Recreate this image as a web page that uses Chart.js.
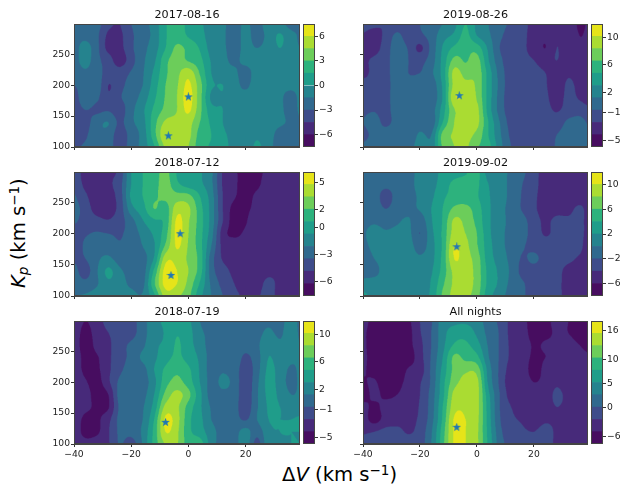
<!DOCTYPE html>
<html><head><meta charset="utf-8">
<script src="https://cdn.jsdelivr.net/npm/chart.js@4"></script>
<style>
html,body{margin:0;padding:0;background:#fff;width:623px;height:488px;overflow:hidden}
canvas{position:absolute}
.lab{position:absolute;font-family:"DejaVu Sans";font-size:19.6px;color:#000;white-space:nowrap;line-height:1}
.lab sup{font-size:13.5px;line-height:0;vertical-align:6px}
.lab sub{font-size:13.5px;line-height:0;vertical-align:-3px;font-style:italic}
</style></head><body>
<div class="lab" id="xlab">Δ<i>V</i> (km s<sup>−1</sup>)</div>
<div class="lab" id="ylab"><i>K</i><sub>p</sub> (km s<sup>−1</sup>)</div>
<script>
// Grid positions of the maps
const velocities = [-40,-36,-32,-28,-24,-20,-16,-12,-8,-4,0,4,8,12,16,20,24,28,32,36,39];
const kpRows = [300,280,260,240,220,200,180,160,140,120,100];
const xTickValues = [-40,-20,0,20];
const yTickValues = [100,150,200,250];
// Map values, in colour-level units (0 = lowest level, 10 = highest)
const map20170816 = [
[3.5,3.5,3.4,2.3,2.0,3.0,3.6,4.4,5.9,6.5,5.7,5.2,4.5,4.2,3.6,4.2,3.6,4.6,4.3,3.6,4.0],
[3.6,3.7,3.2,1.8,1.8,2.8,3.6,4.3,5.9,6.5,5.9,5.4,4.5,4.2,3.4,4.4,3.5,4.4,5.1,4.3,3.9],
[3.6,4.4,3.3,1.7,1.7,2.8,3.7,4.5,6.0,7.2,6.7,5.9,4.6,4.2,3.6,4.3,4.0,4.4,5.0,4.4,4.0],
[3.6,4.4,3.3,2.5,1.5,2.6,3.8,4.8,6.7,7.4,6.9,6.3,4.9,4.3,3.8,4.3,4.4,4.5,4.5,4.8,4.3],
[3.4,3.8,3.4,2.6,2.5,3.1,3.9,5.2,6.8,7.7,8.6,6.9,5.0,4.4,4.2,3.6,4.5,4.6,4.5,4.6,4.6],
[3.0,3.4,3.6,2.0,2.7,3.4,4.0,5.5,7.0,7.9,9.2,7.4,5.2,5.0,4.4,3.8,4.6,4.7,4.4,4.5,4.6],
[2.6,3.6,3.2,2.2,2.9,3.5,4.4,5.8,7.1,8.0,9.4,7.4,4.8,4.9,4.3,4.4,4.6,4.6,4.3,3.3,4.4],
[2.5,3.0,2.8,2.9,2.5,3.7,4.8,6.2,7.3,8.0,9.2,7.3,5.4,5.0,4.5,4.4,4.7,4.5,4.3,3.4,4.2],
[2.5,2.6,3.6,4.0,2.8,3.8,4.6,6.6,8.2,8.3,8.4,7.0,5.8,5.0,4.7,4.2,4.5,4.4,4.2,3.8,3.8],
[2.2,2.8,3.8,3.6,2.5,3.4,4.4,6.6,8.9,8.6,8.3,6.6,6.0,5.2,4.7,4.4,4.8,4.4,3.6,3.3,3.4],
[2.8,3.2,3.6,3.4,2.6,3.4,4.4,5.9,8.2,8.4,8.0,6.4,5.9,5.6,4.4,4.3,5.2,4.3,3.6,3.4,3.5]];
const map20180712 = [
[2.5,1.6,1.4,1.8,2.3,5.0,6.0,6.5,7.3,5.9,5.3,5.1,4.2,1.9,1.2,0.6,0.7,1.3,1.4,1.2,1.3],
[2.8,1.7,1.3,1.8,2.6,5.0,6.0,6.6,7.4,6.2,5.5,5.2,4.2,1.9,1.2,0.6,0.8,1.5,1.5,1.5,1.6],
[3.1,2.2,1.3,1.6,2.5,5.2,6.0,6.8,7.3,7.4,7.3,6.0,4.5,2.0,1.1,0.7,1.2,1.5,1.5,1.6,1.7],
[3.3,2.6,1.5,1.5,2.4,4.6,5.6,7.0,6.5,8.6,8.2,6.4,4.6,2.0,0.7,0.8,1.3,1.5,1.5,1.6,1.7],
[3.1,2.7,2.4,2.1,2.6,3.6,4.9,5.8,6.3,9.2,8.1,6.5,4.6,2.0,0.6,0.9,1.8,1.5,1.6,1.8,1.6],
[2.6,2.9,3.1,3.0,2.9,3.4,4.3,5.2,6.6,9.3,8.0,6.4,4.4,1.5,0.8,1.2,1.7,1.5,1.6,1.9,1.7],
[2.3,3.2,3.6,3.5,3.1,3.4,4.0,4.9,7.2,9.1,7.9,6.4,4.0,1.7,1.5,1.5,1.5,1.5,1.8,1.8,1.7],
[2.8,3.0,3.8,4.2,3.5,3.3,3.6,5.1,8.6,8.7,7.8,6.6,3.5,1.9,1.7,1.5,1.7,1.8,1.8,1.8,1.7],
[3.3,2.6,3.9,5.2,4.2,3.6,3.5,6.2,9.4,9.0,8.0,6.5,3.5,2.4,1.8,1.7,1.7,1.8,1.9,1.9,1.8],
[3.6,3.3,3.9,4.8,4.4,3.8,3.7,6.8,9.4,9.0,7.7,5.9,3.8,2.7,2.0,1.7,1.7,2.2,1.8,1.8,1.8],
[4.0,4.1,4.4,4.5,4.4,4.3,4.1,5.8,8.5,8.2,7.3,5.3,4.0,3.0,2.2,1.9,1.9,2.3,1.7,1.8,1.9]];
const map20180719 = [
[1.6,1.0,1.5,2.4,2.5,2.6,3.6,4.6,5.2,5.3,5.2,4.0,3.8,4.0,3.5,3.8,3.7,3.8,3.6,4.6,3.7],
[1.5,0.7,1.4,2.0,2.4,2.6,3.6,4.6,5.1,5.9,5.4,4.2,3.8,3.5,3.5,3.6,3.7,4.2,3.8,4.7,3.8],
[1.6,0.5,1.3,1.8,2.6,3.2,3.8,4.8,5.2,6.1,5.4,4.5,3.6,3.6,3.6,3.4,3.8,4.8,4.2,4.6,4.0],
[1.6,0.7,0.9,1.8,2.6,3.3,4.2,4.8,5.6,6.2,5.6,4.8,3.6,3.7,3.7,2.8,3.6,5.0,4.5,4.3,4.1],
[1.5,0.8,0.8,1.8,2.8,3.4,3.6,5.0,6.2,6.8,6.2,4.9,3.6,3.9,3.6,2.4,3.6,5.2,4.6,3.8,4.2],
[1.6,1.1,0.6,1.8,3.2,3.5,3.5,4.7,6.6,7.3,6.5,5.0,3.7,4.2,3.7,2.3,3.8,5.3,4.6,3.6,4.2],
[1.7,1.5,0.5,1.0,3.4,3.6,3.7,5.0,7.3,8.3,7.3,5.3,3.6,3.8,3.6,2.3,3.9,5.2,4.8,4.0,4.2],
[1.8,1.3,0.8,0.9,3.2,3.6,3.9,5.4,8.3,8.2,6.6,5.2,3.9,3.6,3.4,2.4,3.9,5.1,5.0,4.6,4.6],
[1.7,0.7,0.8,1.7,3.3,3.7,4.0,6.0,9.2,8.4,6.3,5.3,4.0,3.5,3.4,2.9,4.0,5.0,5.0,5.0,5.1],
[1.7,0.6,0.8,1.9,3.2,3.4,4.2,6.3,9.0,8.2,6.3,5.5,4.4,3.6,3.6,4.4,3.4,4.8,5.0,5.0,5.0],
[1.8,1.4,1.6,1.9,3.1,2.5,4.1,6.3,8.1,8.1,6.5,6.5,4.5,3.6,3.6,4.6,2.6,4.8,4.9,5.0,5.0]];
const map20190826 = [
[2.5,2.3,2.0,2.4,2.4,3.0,3.3,4.0,4.7,6.0,4.8,4.0,3.4,2.8,2.4,1.6,1.6,1.9,1.8,0.8,1.1],
[1.9,1.5,2.3,3.2,2.5,2.8,3.4,4.6,5.2,6.3,5.0,4.2,3.2,2.6,2.3,1.5,1.2,1.9,1.8,1.0,1.2],
[1.7,1.6,2.5,3.5,2.9,1.8,3.3,5.1,6.2,6.7,6.5,4.8,3.0,2.6,2.2,1.6,1.0,2.0,1.4,1.2,1.2],
[1.8,2.2,2.6,3.6,3.0,2.7,3.5,5.3,7.3,6.9,7.4,5.1,3.3,2.4,2.2,2.0,1.5,2.0,1.3,1.4,1.4],
[1.7,2.3,2.6,3.6,3.0,3.0,3.8,5.4,8.3,7.6,7.7,5.6,3.6,2.4,2.2,2.3,2.0,1.4,1.8,1.6,1.5],
[2.4,2.3,2.6,3.5,3.2,3.7,3.4,5.2,8.3,8.3,7.8,5.6,3.7,2.4,2.3,2.3,2.1,1.3,2.2,1.7,1.6],
[2.6,2.5,2.6,3.6,3.1,3.6,3.3,5.1,8.8,8.7,7.9,5.6,3.6,2.3,2.2,2.3,2.2,1.5,2.3,1.9,1.7],
[2.8,2.9,2.6,3.6,3.6,3.4,3.5,5.5,7.9,8.4,8.3,5.6,3.6,2.4,2.2,2.3,2.3,1.9,2.4,2.5,2.2],
[3.0,3.5,2.7,3.5,3.9,3.4,3.3,6.0,8.0,8.2,8.3,6.0,4.0,2.6,2.3,2.2,2.4,2.5,3.2,3.4,2.9],
[2.7,3.3,3.6,3.7,3.1,4.2,4.0,7.3,8.1,8.3,7.7,6.0,4.2,2.8,2.4,2.3,2.4,3.0,3.3,3.3,3.1],
[3.2,3.5,3.6,3.5,3.2,4.8,4.3,7.2,8.0,8.2,7.1,6.4,4.4,3.0,2.5,2.5,2.4,3.1,3.2,3.2,3.1]];
const map20190902 = [
[3.4,3.4,3.4,3.4,3.5,4.4,4.5,5.3,5.6,5.9,6.3,4.6,4.8,3.6,3.2,2.4,1.5,1.4,1.3,1.3,1.4],
[3.5,3.6,3.4,3.5,3.6,4.4,4.6,5.5,6.2,6.3,6.2,5.0,4.7,3.6,3.0,2.3,1.6,1.5,1.4,1.3,1.4],
[3.6,3.7,2.4,3.5,3.6,4.2,4.8,5.8,6.3,6.4,6.1,5.1,4.5,3.7,2.9,2.2,1.6,1.6,1.5,1.4,1.5],
[3.7,3.7,3.0,3.6,3.8,4.1,5.0,6.0,7.2,7.3,6.5,5.2,4.4,3.6,2.9,2.2,1.5,1.6,1.7,2.2,1.7],
[3.8,3.9,3.7,3.9,4.1,3.4,4.9,6.1,8.2,7.7,6.7,5.2,4.4,3.7,3.3,2.5,1.8,2.3,2.2,2.3,1.7],
[3.9,4.3,4.1,4.2,4.3,3.0,4.7,6.2,8.4,8.0,7.0,5.3,4.3,3.7,3.3,2.6,1.9,2.3,2.3,2.3,1.7],
[3.8,4.2,4.3,4.3,4.5,3.5,4.6,6.2,9.0,8.3,7.1,5.4,4.4,3.6,3.1,2.7,2.5,2.4,2.3,2.2,1.6],
[3.6,4.0,4.4,4.4,4.6,4.2,4.7,6.3,9.0,8.4,7.5,5.5,4.6,3.7,2.9,3.2,2.6,2.4,2.2,1.9,1.8],
[3.7,3.7,4.4,4.4,4.6,4.6,4.9,6.4,8.3,8.5,7.6,5.7,4.8,3.8,2.7,2.6,2.4,2.3,1.7,1.7,1.9],
[4.3,4.4,4.4,4.5,4.6,4.5,5.1,6.8,8.2,8.5,7.6,5.7,4.8,3.7,3.1,2.6,2.4,2.3,1.6,1.8,1.9],
[5.3,4.6,4.5,4.5,4.6,4.6,5.2,7.2,8.3,8.3,7.4,5.4,4.5,3.5,3.1,2.7,2.5,2.4,1.5,1.9,2.0]];
const mapAllNights = [
[1.4,0.6,0.5,0.5,0.8,2.0,2.9,4.5,4.7,4.8,4.5,3.5,2.8,1.7,1.3,0.6,0.8,1.2,1.0,0.6,0.6],
[1.2,0.5,0.5,0.5,0.7,1.9,3.0,4.6,5.5,5.6,4.8,3.7,2.9,1.7,1.4,0.6,0.8,1.1,1.0,0.7,0.5],
[1.2,0.5,0.5,0.5,0.7,1.7,3.0,4.7,6.1,6.2,5.4,3.9,2.9,1.8,1.5,0.9,1.1,1.1,1.2,1.0,0.8],
[1.2,0.6,0.5,0.4,0.5,1.6,3.1,5.0,7.2,6.7,6.3,4.1,2.9,1.8,1.5,0.8,1.0,1.2,1.2,1.2,1.1],
[1.1,0.7,0.5,0.4,1.1,1.5,3.2,5.3,7.3,7.8,7.6,4.6,2.8,1.6,1.6,0.5,1.3,1.3,1.3,1.3,1.2],
[0.9,1.1,0.5,0.7,1.3,1.9,3.2,5.6,7.6,8.3,8.3,4.8,2.8,1.4,1.6,1.0,1.3,1.8,1.4,1.4,1.2],
[0.6,1.2,0.8,1.0,1.4,2.0,3.4,5.7,8.3,8.5,8.4,5.3,3.0,1.6,1.6,1.5,1.5,2.2,1.7,1.5,1.4],
[1.3,0.8,1.3,1.4,1.5,2.1,3.5,6.0,8.6,8.8,8.4,5.5,3.0,2.0,1.6,1.6,1.7,2.0,1.8,1.6,1.5],
[1.5,0.6,1.4,1.6,1.7,2.2,3.6,6.2,9.1,9.0,8.3,5.6,3.1,2.2,1.9,1.7,1.9,1.9,1.8,1.7,1.5],
[1.9,2.0,2.3,2.3,1.9,2.4,3.9,6.5,9.1,9.0,8.2,5.7,3.3,2.4,2.1,2.0,2.2,1.9,1.7,1.7,1.6],
[2.3,2.3,2.6,2.6,2.5,2.5,4.0,6.7,9.1,9.0,8.2,5.8,3.5,2.6,2.3,2.1,2.2,1.9,1.8,1.7,1.6]];
// Star markers
const stars20170816 = [{x:-7,y:118},{x:0,y:181}];
const stars20180712 = [{x:-2.9,y:200},{x:-6.1,y:133}];
const stars20180719 = [{x:-8,y:135}];
const stars20190826 = [{x:-6.2,y:183}];
const stars20190902 = [{x:-7.1,y:179}];
const starsAllNights = [{x:-7.1,y:127}];
// Colour bar ranges and ticks
const range20170816 = [-7.5,7.5], ticks20170816 = [-6,-3,0,3,6];
const range20180712 = [-7.57,6.13], ticks20180712 = [-6,-3,0,2,5];
const range20180719 = [-5.97,11.97], ticks20180719 = [-5,-1,2,6,10];
const range20190826 = [-5.97,11.97], ticks20190826 = [-5,-1,2,6,10];
const range20190902 = [-8,12], ticks20190902 = [-6,-2,2,6,10];
const rangeAllNights = [-7.5,17.9], ticksAllNights = [-6,0,5,10,16];
const bandColors = ['#470d60','#472a7a','#3e4c8a','#30698e','#25838e','#1f9d8a','#2db27d','#6ccd5a','#aadc32','#e6e419'];

const FONT = 'DejaVu Sans', TICK = 9.2;
const cols = {L:{x:74,w:226,cb:303},R:{x:363,w:225,cb:591}};
const rowsPos = [{y:24,h:123},{y:172,h:124},{y:321,h:123}];

function starImage(){
  const c=document.createElement('canvas');c.width=c.height=9;const g=c.getContext('2d');
  g.fillStyle='#1f77b4';g.beginPath();
  for(let i=0;i<10;i++){const r=i%2?1.9:4.6,a=-Math.PI/2+i*Math.PI/5;g[i?'lineTo':'moveTo'](4.5+r*Math.cos(a),4.5+r*Math.sin(a));}
  g.closePath();g.fill();return c;
}
const starImg=starImage();
function cr(p0,p1,p2,p3,t){return p1+0.5*t*(p2-p0+t*(2*p0-5*p1+4*p2-p3+t*(3*(p1-p2)+p3-p0)));}
function locate(arr,v){
  const inc=arr[1]>arr[0];let i=0;
  while(i<arr.length-2&&(inc?v>arr[i+1]:v<arr[i+1]))i++;
  return [i,Math.max(0,Math.min(1,(v-arr[i])/(arr[i+1]-arr[i])))];
}
function sample(grid,x,y){
  const [i,tx]=locate(velocities,x),[j,ty]=locate(kpRows,y);
  const R=grid.length-1,C=grid[0].length-1,row=[];
  for(let n=-1;n<=2;n++){
    const r=grid[Math.max(0,Math.min(R,j+n))];
    row.push(cr(r[Math.max(0,i-1)],r[i],r[Math.min(C,i+1)],r[Math.min(C,i+2)],tx));
  }
  return cr(row[0],row[1],row[2],row[3],ty);
}
function hexRGB(h){return [1,3,5].map(k=>parseInt(h.substr(k,2),16));}
const bandRGB=bandColors.map(hexRGB);
const frame={id:'frame',afterDraw(ch){const a=ch.chartArea,g=ch.ctx;g.save();g.strokeStyle='#444';g.lineWidth=1;
  g.strokeRect(Math.round(a.left)+.5,Math.round(a.top)+.5,Math.round(a.right-a.left)-1,Math.round(a.bottom-a.top)-1);g.restore();}};
function contour(grid){return {id:'contour',beforeDatasetsDraw(ch){
  const a=ch.chartArea,S=3,w=Math.round((a.right-a.left)*S),h=Math.round((a.bottom-a.top)*S);
  const off=document.createElement('canvas');off.width=w;off.height=h;const g=off.getContext('2d'),im=g.createImageData(w,h);
  const sx=ch.scales.x,sy=ch.scales.y;
  for(let py=0;py<h;py++){const ky=sy.getValueForPixel(a.top+(py+.5)/S);
    for(let px=0;px<w;px++){const vx=sx.getValueForPixel(a.left+(px+.5)/S);
      const b=Math.max(0,Math.min(9,Math.floor(sample(grid,vx,ky))));const c=bandRGB[b],o=(py*w+px)*4;
      im.data[o]=c[0];im.data[o+1]=c[1];im.data[o+2]=c[2];im.data[o+3]=255;}}
  g.putImageData(im,0,0);
  const t=ch.ctx;t.save();t.imageSmoothingEnabled=true;t.imageSmoothingQuality='high';t.drawImage(off,a.left,a.top,a.right-a.left,a.bottom-a.top);t.restore();
}};}
function place(el,l,t,w,h){el.style.left=l+'px';el.style.top=t+'px';el.width=w;el.height=h;document.body.appendChild(el);return el.getContext('2d');}
const fmt=v=>String(v).replace('-','\u2212');

function panel(title,grid,stars,range,cbTicks,col,rowIdx){
  const C=cols[col],P=rowsPos[rowIdx],L=44,B=20,T=18,bottom=rowIdx===2;
  const ctx=place(document.createElement('canvas'),C.x-L,P.y-T,C.w+L,P.h+T+B);
  const tickFont={family:FONT,size:TICK};
  new Chart(ctx,{type:'scatter',
    data:{datasets:[{label:title,data:stars,pointStyle:starImg,pointRadius:4,pointHoverRadius:4,showLine:false}]},
    options:{responsive:false,animation:false,events:[],layout:{padding:0,autoPadding:false},
      plugins:{legend:{display:false},tooltip:{enabled:false},
        title:{display:true,text:title,fullSize:false,color:'#111',font:{family:FONT,size:11.2,weight:'normal',lineHeight:1},padding:{top:3.4,bottom:3.4}}},
      scales:{
        x:{type:'linear',min:-40,max:39,afterBuildTicks:s=>{s.ticks=xTickValues.map(value=>({value}));},afterFit:s=>{s.height=B;},
          ticks:{display:bottom,font:tickFont,color:'#222',padding:2.5,maxRotation:0,callback:fmt},
          grid:{drawOnChartArea:false,tickLength:3,color:'#333'},border:{color:'#444'}},
        y:{type:'linear',min:100,max:299,afterBuildTicks:s=>{s.ticks=yTickValues.map(value=>({value}));},afterFit:s=>{s.width=L;},
          ticks:{display:col==='L',font:tickFont,color:'#222',padding:1,callback:fmt},
          grid:{drawOnChartArea:false,tickLength:3,color:'#333'},border:{color:'#444'}}
      }},
    plugins:[contour(grid),frame]});
  // colour bar
  const cctx=place(document.createElement('canvas'),C.cb,P.y,38,P.h);
  const step=(range[1]-range[0])/10;
  new Chart(cctx,{type:'bar',
    data:{labels:[title],datasets:bandColors.map((c,i)=>({label:'level '+i,data:[[range[0]+i*step,range[0]+(i+1)*step]],backgroundColor:c,barPercentage:1,categoryPercentage:1,grouped:false}))},
    options:{responsive:false,animation:false,events:[],layout:{padding:0,autoPadding:false},
      plugins:{legend:{display:false},tooltip:{enabled:false},title:{display:false}},
      scales:{
        x:{display:false},
        y:{position:'right',min:range[0],max:range[1],afterBuildTicks:s=>{s.ticks=cbTicks.map(value=>({value}));},
          afterFit:s=>{s.width=26;s.paddingTop=0;s.paddingBottom=0;},
          ticks:{font:tickFont,color:'#222',padding:1,callback:fmt},
          grid:{drawOnChartArea:false,tickLength:3,color:'#333'},border:{display:false}}
      }},
    plugins:[frame]});
}
panel('2017-08-16',map20170816,stars20170816,range20170816,ticks20170816,'L',0);
panel('2018-07-12',map20180712,stars20180712,range20180712,ticks20180712,'L',1);
panel('2018-07-19',map20180719,stars20180719,range20180719,ticks20180719,'L',2);
panel('2019-08-26',map20190826,stars20190826,range20190826,ticks20190826,'R',0);
panel('2019-09-02',map20190902,stars20190902,range20190902,ticks20190902,'R',1);
panel('All nights',mapAllNights,starsAllNights,rangeAllNights,ticksAllNights,'R',2);
const xl=document.getElementById('xlab');xl.style.left='282px';xl.style.top='465px';
const yl=document.getElementById('ylab');yl.style.left='19px';yl.style.top='234px';yl.style.transformOrigin='0 0';yl.style.transform='translate(-10px,54px) rotate(-90deg)';
</script>
</body></html>
